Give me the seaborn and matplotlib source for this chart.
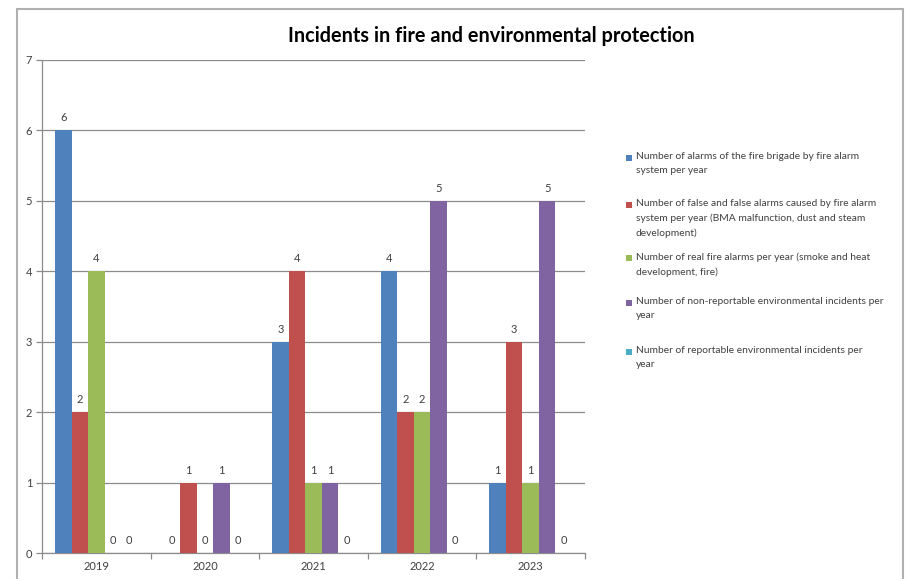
import matplotlib
matplotlib.use("Agg")
import matplotlib.pyplot as plt
from matplotlib import font_manager
from matplotlib.patches import Rectangle
import seaborn as sns
import pandas as pd

# ---- data ----
years = ["2019", "2020", "2021", "2022", "2023"]
series_labels = [
    "Number of alarms of the fire brigade by fire alarm\nsystem per year",
    "Number of false and false alarms caused by fire alarm\nsystem per year (BMA malfunction, dust and steam\ndevelopment)",
    "Number of real fire alarms per year (smoke and heat\ndevelopment, fire)",
    "Number of non-reportable environmental incidents per\nyear",
    "Number of reportable environmental incidents per\nyear",
]
fire_brigade_alarms = [6, 0, 3, 4, 1]
false_alarms = [2, 1, 4, 2, 3]
real_fire_alarms = [4, 0, 1, 2, 1]
non_reportable_env = [0, 1, 1, 5, 5]
reportable_env = [0, 0, 0, 0, 0]
y_ticks = [0, 1, 2, 3, 4, 5, 6, 7]

colors = ["#4F81BD", "#C0504D", "#9BBB59", "#8064A2", "#4BACC6"]

# ---- fonts ----
available = {f.name for f in font_manager.fontManager.ttflist}
def pick(*names):
    for n in names:
        if n in available:
            return n
    return "DejaVu Sans"

body_font = pick("Lato", "Open Sans", "Liberation Sans", "DejaVu Sans")
title_font = pick("Liberation Sans Narrow", "Lato", "Liberation Sans")

sns.set_theme(style="white")
plt.rcParams["font.family"] = [body_font, "DejaVu Sans"]

values = [fire_brigade_alarms, false_alarms, real_fire_alarms,
          non_reportable_env, reportable_env]
records = []
for label, vals in zip(series_labels, values):
    for yr, v in zip(years, vals):
        records.append({"year": yr, "count": v, "series": label})
df = pd.DataFrame(records)

fig = plt.figure(figsize=(9.06, 5.79), dpi=100)
ax = fig.add_axes([42 / 906, 1 - 553 / 579, (585 - 42) / 906, (553 - 60) / 579])

sns.barplot(data=df, x="year", y="count", hue="series", order=years,
            hue_order=series_labels, palette=colors, width=0.76, gap=0,
            saturation=1, errorbar=None, legend=False, ax=ax, zorder=3,
            linewidth=0)

text_col = "#404040"
grid_col = "#8C8C8C"

for cont in ax.containers:
    ax.bar_label(cont, fmt="%d", padding=5, fontsize=8, color=text_col)

ax.set_xlim(-0.5, len(years) - 0.5)
ax.set_ylim(0, 7)
ax.set_yticks(y_ticks)
ax.set_yticklabels([str(t) for t in y_ticks])
ax.set_xlabel("")
ax.set_ylabel("")
ax.yaxis.grid(True, color=grid_col, linewidth=0.9, zorder=0)
ax.set_axisbelow(True)

for s in ["top", "right"]:
    ax.spines[s].set_visible(False)
for s in ["left", "bottom"]:
    ax.spines[s].set_color(grid_col)
    ax.spines[s].set_linewidth(0.9)

ax.tick_params(axis="y", which="major", left=True, length=4, width=0.9,
               color=grid_col, labelsize=8, labelcolor=text_col, pad=3)
ax.tick_params(axis="x", which="major", bottom=False, length=0, labelsize=8,
               labelcolor=text_col, pad=6)
ax.set_xticks([i + 0.5 for i in range(-1, len(years))], minor=True)
ax.tick_params(axis="x", which="minor", bottom=True, length=4, width=0.9,
               color=grid_col)

# title
fig.text(491 / 906, 1 - 36 / 579, "Incidents in fire and environmental protection",
         ha="center", va="center", fontsize=14.3, fontweight="bold",
         family=[title_font, "DejaVu Sans"], color="#000000")

# legend drawn as square swatches with wrapped text
entry_tops = [158, 205, 258, 303, 352]
for color, label, ytop in zip(colors, series_labels, entry_tops):
    fig.patches.append(Rectangle(((626) / 906, 1 - (ytop + 3) / 579), 6 / 906, 6 / 579,
                                 transform=fig.transFigure, facecolor=color,
                                 edgecolor="none"))
    fig.text(636 / 906, 1 - (ytop - 6) / 579, label, ha="left", va="top",
             fontsize=7.4, color=text_col, linespacing=1.75)

# chart frame
fig.patches.append(Rectangle((17 / 906, -0.02), (903 - 17) / 906, 1 - 9 / 579 + 0.02,
                             transform=fig.transFigure, fill=False,
                             edgecolor="#B0B0B0", linewidth=1.5))

fig.savefig("out.png", dpi=100, facecolor="white")
